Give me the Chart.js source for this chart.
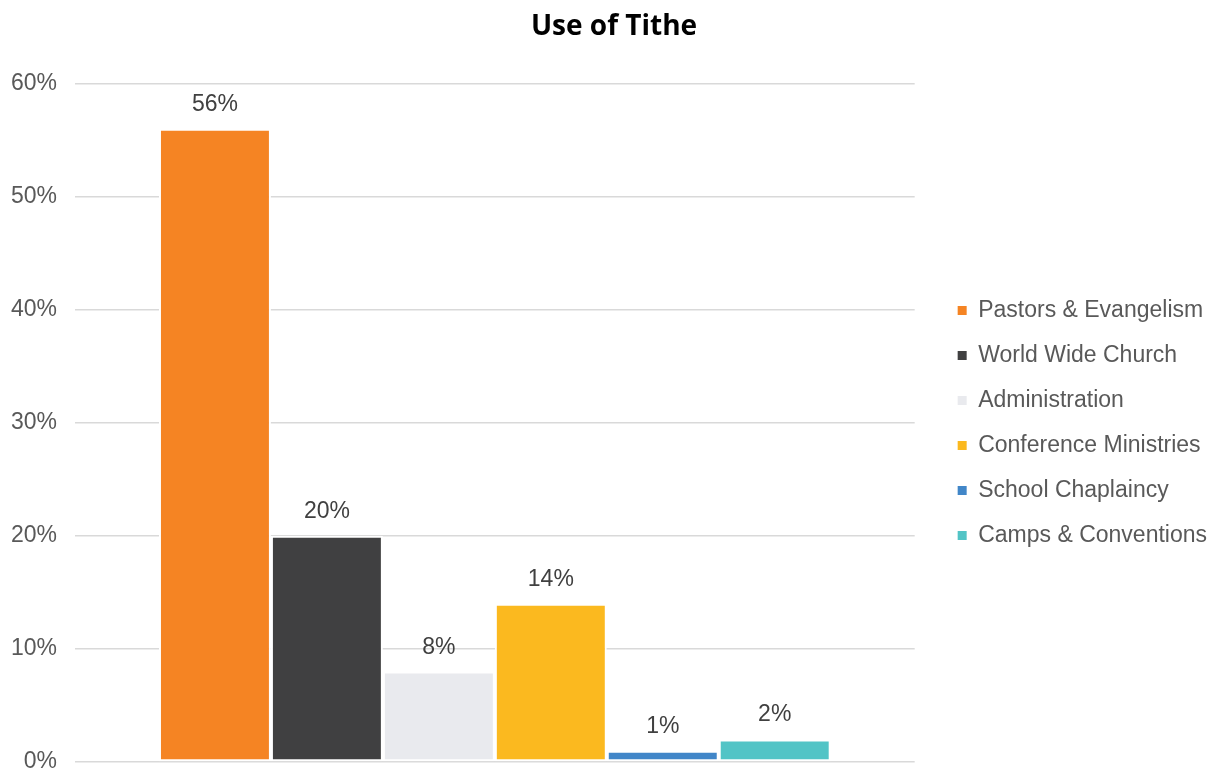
<!DOCTYPE html>
<html>
<head>
<meta charset="utf-8">
<script src="https://cdn.jsdelivr.net/npm/chart.js@4"></script>
<style>
  html, body { margin: 0; padding: 0; background: #fff; }
  #wrap { width: 1220px; height: 771px; }
</style>
</head>
<body>
<div id="wrap"><canvas id="tithe"></canvas></div>
<script>
const categories = ['Pastors & Evangelism', 'World Wide Church', 'Administration',
  'Conference Ministries', 'School Chaplaincy', 'Camps & Conventions'];
const shares = [56, 20, 8, 14, 1, 2];
const colours = ['#f58423', '#404041', '#e9eaee', '#fbb91f', '#4186c8', '#52c4c6'];
const yTicks = [0, 10, 20, 30, 40, 50, 60];

const bodyFont = 'Liberation Sans';

// draws the "56%" labels above each bar
const barLabels = {
  id: 'barLabels',
  afterDatasetsDraw(chart) {
    const ctx = chart.ctx;
    ctx.save();
    ctx.font = '23px "' + bodyFont + '"';
    ctx.fillStyle = '#404040';
    ctx.textAlign = 'center';
    ctx.textBaseline = 'alphabetic';
    chart.data.datasets.forEach((ds, i) => {
      const bar = chart.getDatasetMeta(i).data[0];
      ctx.fillText(ds.data[0] + '%', bar.x, bar.y - 18);
    });
    ctx.restore();
  }
};

Chart.defaults.font.family = bodyFont;

new Chart(document.getElementById('tithe'), {
  type: 'bar',
  data: {
    labels: [''],
    datasets: categories.map((c, i) => ({
      label: c,
      data: [shares[i]],
      backgroundColor: colours[i],
      borderColor: '#ffffff',
      borderWidth: 2,
      borderSkipped: false,
      barPercentage: 1,
      categoryPercentage: 0.8
    }))
  },
  options: {
    responsive: true,
    maintainAspectRatio: false,
    animation: false,
    layout: { padding: { left: 11, right: 3, top: 0, bottom: 9 } },
    plugins: {
      title: {
        display: true,
        text: 'Use of Tithe',
        color: '#000000',
        font: { family: 'Open Sans', size: 28, weight: 'bold' },
        padding: { top: 10, bottom: 40 }
      },
      legend: {
        position: 'right',
        maxWidth: 400,
        // blank title, pushes the items down to the middle of the plot
        title: { display: true, text: ' ', font: { size: 10 }, padding: { top: 72, bottom: 0 } },
        labels: {
          color: '#595959',
          font: { size: 23 },
          boxWidth: 9,
          boxHeight: 9,
          padding: 22,
          generateLabels(chart) {
            return Chart.defaults.plugins.legend.labels.generateLabels(chart)
              .map(item => Object.assign(item, { lineWidth: 0, strokeStyle: 'rgba(0,0,0,0)' }));
          }
        }
      },
      tooltip: { enabled: false }
    },
    scales: {
      x: {
        display: false
      },
      y: {
        min: 0,
        max: 60,
        afterBuildTicks(axis) { axis.ticks = yTicks.map(v => ({ value: v })); },
        afterFit(axis) { axis.width = 64; axis.paddingTop = 0; axis.paddingBottom = 0; },
        border: { display: false },
        grid: { color: '#d9d9d9', lineWidth: 1.5, drawTicks: false },
        ticks: {
          color: '#595959',
          padding: 18,
          font: { size: 23 },
          callback: v => v + '%'
        }
      },
      // empty axis, only keeps a gap between the plot and the legend
      gap: {
        position: 'right',
        min: 0,
        max: 1,
        grid: { display: false },
        border: { display: false },
        ticks: { display: false },
        afterFit(axis) { axis.width = 21; axis.paddingTop = 0; axis.paddingBottom = 0; }
      }
    }
  },
  plugins: [barLabels]
});
</script>
</body>
</html>
